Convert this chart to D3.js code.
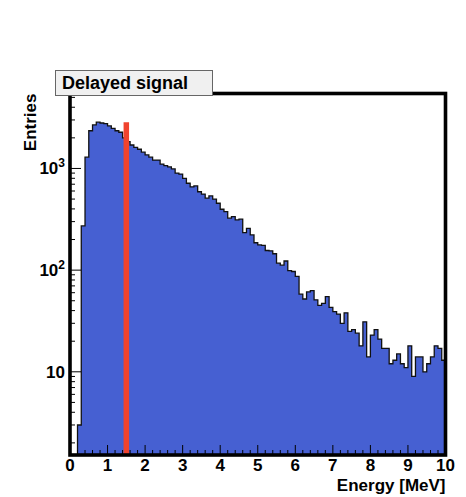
<!DOCTYPE html>
<html>
<head>
<meta charset="utf-8">
<script src="https://cdn.jsdelivr.net/npm/d3@7"></script>
<style>
  html, body { margin: 0; padding: 0; background: #fff; }
  svg { display: block; font-family: "Liberation Sans", Arial, Helvetica, sans-serif; }
</style>
</head>
<body>
<svg id="chart" width="466" height="497"></svg>
<script>
// Delayed-signal energy spectrum: 100 bins of 0.1 MeV from 0 to 10 MeV
const binEdgesMin = 0;
const binEdgesMax = 10;
const entries = [
  0, 0, 3, 272, 1290, 2350, 2680, 2850, 2800, 2760,
  2620, 2480, 2350, 2270, 2000, 1835, 1700, 1615, 1545, 1445,
  1360, 1290, 1210, 1210, 1105, 1065, 1035, 990, 900, 880,
  800, 715, 660, 673, 590, 560, 510, 537, 500, 455,
  397, 376, 324, 336, 312, 317, 234, 258, 222, 186,
  177, 175, 156, 155, 145, 117, 112, 123, 99, 97,
  87, 58, 52, 61, 63, 51, 45, 47, 55, 43,
  39, 37, 30, 38, 25, 26, 24, 18, 31, 14,
  23, 26, 21, 17, 17, 12, 13, 15, 12, 11,
  18, 9, 14, 14, 10, 12, 14, 18, 17, 13
];
// Energy cut marker
const cutEnergy = [1.5];
const cutHeight = [2850];
// Axis labels
const xTickValues = [0, 1, 2, 3, 4, 5, 6, 7, 8, 9, 10];
const yDecades = [10, 100, 1000];
const yDecadeLabels = [["10", ""], ["10", "2"], ["10", "3"]];
const titleText = "Delayed signal";
const xTitle = "Energy [MeV]";
const yTitle = "Entries";

(function draw() {
  const svg = d3.select("#chart");
  const pL = 70, pR = 445.5, pT = 93.5, pB = 455;

  const x = d3.scaleLinear().domain([binEdgesMin, binEdgesMax]).range([pL, pR]);
  const y = d3.scaleLog().domain([1.52, 5460]).range([pB, pT]);

  const nb = entries.length;
  const bw = (binEdgesMax - binEdgesMin) / nb;
  const yv = v => y(Math.max(v, y.domain()[0]));

  svg.append("clipPath").attr("id", "plotclip")
    .append("rect").attr("x", pL).attr("y", pT)
    .attr("width", pR - pL).attr("height", pB - pT);

  // step outline of the histogram
  let d = `M${x(binEdgesMin)},${pB}`;
  entries.forEach((v, i) => {
    const x0 = x(binEdgesMin + i * bw), x1 = x(binEdgesMin + (i + 1) * bw);
    d += `L${x0},${yv(v)}L${x1},${yv(v)}`;
  });
  d += `L${x(binEdgesMax)},${pB}Z`;

  const g = svg.append("g").attr("clip-path", "url(#plotclip)");
  g.append("path").attr("d", d)
    .attr("fill", "#4660d2")
    .attr("stroke", "#111")
    .attr("stroke-width", 1.3)
    .attr("stroke-linejoin", "miter");

  // cut line
  g.selectAll("line.cut").data(cutEnergy).enter().append("line")
    .attr("class", "cut")
    .attr("x1", e => x(e)).attr("x2", e => x(e))
    .attr("y1", pB).attr("y2", (e, i) => y(cutHeight[i]))
    .attr("stroke", "#f0432e").attr("stroke-width", 5.5);

  // x ticks: major every 1 MeV, minor every 0.2 MeV
  const xMinor = d3.range(0, 50).map(i => i * 0.2).filter(v => Math.abs(v - Math.round(v)) > 1e-6);
  svg.append("g").selectAll("line").data(xMinor).enter().append("line")
    .attr("x1", v => x(v)).attr("x2", v => x(v))
    .attr("y1", pB).attr("y2", pB - 5)
    .attr("stroke", "#000").attr("stroke-width", 1);
  svg.append("g").selectAll("line").data(xTickValues).enter().append("line")
    .attr("x1", v => x(v)).attr("x2", v => x(v))
    .attr("y1", pB).attr("y2", pB - 10)
    .attr("stroke", "#000").attr("stroke-width", 1);

  // y ticks: log decades and sub-decades
  const yMinor = [];
  [1, 10, 100, 1000].forEach(dec => {
    for (let k = 2; k <= 9; k++) {
      const v = dec * k;
      if (v >= y.domain()[0] && v <= y.domain()[1]) yMinor.push(v);
    }
  });
  svg.append("g").selectAll("line").data(yMinor).enter().append("line")
    .attr("x1", pL).attr("x2", pL + 5)
    .attr("y1", v => y(v)).attr("y2", v => y(v))
    .attr("stroke", "#000").attr("stroke-width", 1);
  svg.append("g").selectAll("line").data(yDecades).enter().append("line")
    .attr("x1", pL).attr("x2", pL + 11)
    .attr("y1", v => y(v)).attr("y2", v => y(v))
    .attr("stroke", "#000").attr("stroke-width", 1);

  // frame
  svg.append("rect")
    .attr("x", pL).attr("y", pT)
    .attr("width", pR - pL).attr("height", pB - pT)
    .attr("fill", "none").attr("stroke", "#000").attr("stroke-width", 3.6);

  // x tick labels
  svg.append("g").selectAll("text").data(xTickValues).enter().append("text")
    .attr("x", v => x(v)).attr("y", 471)
    .attr("text-anchor", "middle")
    .attr("font-size", 17).attr("font-weight", "bold")
    .text(v => v);

  // y tick labels with exponents
  const yl = svg.append("g").selectAll("text").data(yDecades).enter().append("text")
    .attr("x", 65).attr("y", v => y(v) + 6)
    .attr("text-anchor", "end")
    .attr("font-size", 17).attr("font-weight", "bold");
  yl.append("tspan").text((v, i) => yDecadeLabels[i][0]);
  yl.append("tspan").attr("font-size", 12).attr("dy", -7)
    .text((v, i) => yDecadeLabels[i][1]);

  // axis titles
  svg.append("text")
    .attr("x", pR).attr("y", 491)
    .attr("text-anchor", "end")
    .attr("font-size", 17).attr("font-weight", "bold")
    .text(xTitle);
  svg.append("text")
    .attr("transform", `translate(36,${pT}) rotate(-90)`)
    .attr("text-anchor", "end")
    .attr("font-size", 17).attr("font-weight", "bold")
    .text(yTitle);

  // title box
  svg.append("rect")
    .attr("x", 55.5).attr("y", 70.5).attr("width", 157).attr("height", 25)
    .attr("fill", "#f0f0f0").attr("stroke", "#666").attr("stroke-width", 1);
  svg.append("text")
    .attr("x", 62).attr("y", 88.5)
    .attr("font-size", 18).attr("font-weight", "bold")
    .text(titleText);
})();
</script>
</body>
</html>
